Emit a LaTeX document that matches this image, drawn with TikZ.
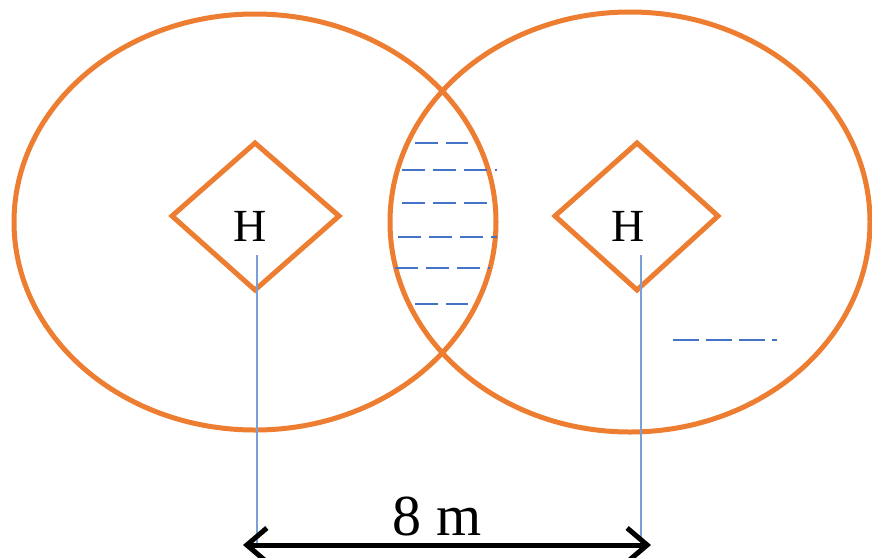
\documentclass[tikz,border=0pt]{standalone}
\usepackage{fontspec}
\setmainfont{Liberation Serif}
\usetikzlibrary{arrows.meta}
\definecolor{org}{RGB}{237,125,49}
\definecolor{blu}{RGB}{68,114,196}
\definecolor{lblu}{RGB}{120,160,215}
\begin{document}
\begin{tikzpicture}[x=1pt,y=-1pt,
  ring/.style={draw=org,line width=5pt},
  dia/.style={draw=org,line width=5pt,line join=miter},
  hatch/.style={draw=blu,line width=2pt,dash pattern=on 23pt off 8pt},
  guide/.style={draw=lblu,line width=1.6pt},
  lab/.style={inner sep=0pt,font=\fontsize{46}{46}\selectfont}]
\useasboundingbox (0,0) rectangle (872,557);
\fill[white] (0,0) rectangle (872,557);
% circles
\draw[ring] (255,222) ellipse [x radius=241, y radius=208];
\draw[ring] (630,222) ellipse [x radius=240, y radius=210];
% hatching in lens
\draw[hatch] (415,143) -- (468,143);
\draw[hatch] (402,170) -- (497,170);
\draw[hatch] (402,203) -- (490,203);
\draw[hatch] (398,237) -- (497,237);
\draw[hatch] (395,268) -- (490,268);
\draw[hatch] (415,304) -- (468,304);
\draw[draw=blu,line width=2pt,dash pattern=on 26pt off 7pt] (673,340) -- (777,340);
% diamonds
\draw[dia] (172,216) -- (255,143) -- (339,216) -- (255,290) -- cycle;
\draw[dia] (555,216) -- (637,143) -- (718,216) -- (637,290) -- cycle;
\node[lab] (h1) at (250,226) {H};
\node[lab] (h2) at (628,226) {H};
% guide lines
\coordinate (t1) at (257,255);
\coordinate (b1) at (257,543);
\coordinate (t2) at (641,255);
\coordinate (b2) at (641,543);
\draw[guide] (t1) -- (b1);
\draw[guide] (t2) -- (b2);
% dimension arrow
\coordinate (a1) at (243,545);
\coordinate (a2) at (651,545);
\draw[line width=5pt,{Straight Barb[length=20pt,width=34pt]}-{Straight Barb[length=20pt,width=34pt]}] (a1) -- (a2);
\node[inner sep=0pt,font=\fontsize{58}{58}\selectfont] (d) at (437,516) {8 m};
\end{tikzpicture}
\end{document}
